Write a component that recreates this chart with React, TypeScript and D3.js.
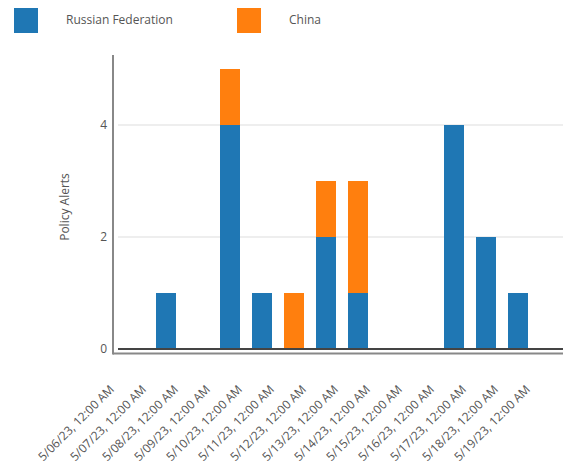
import React from "react";
import * as d3 from "d3";

const dates = [
  "5/06/23", "5/07/23", "5/08/23", "5/09/23", "5/10/23", "5/11/23", "5/12/23",
  "5/13/23", "5/14/23", "5/15/23", "5/16/23", "5/17/23", "5/18/23", "5/19/23",
];
const russia = [0, 1, 0, 4, 1, 0, 2, 1, 0, 0, 4, 2, 1, 0];
const china = [0, 0, 0, 1, 0, 1, 1, 2, 0, 0, 0, 0, 0, 0];
const seriesNames = ["Russian Federation", "China"];
const seriesColors = ["#1f77b4", "#ff7f0e"];
const yTicks = [0, 2, 4];

const W = 563;
const H = 466;
const left = 118;
const step = 32;
const plotTop = 55;
const zeroY = 349;

export default function App() {
  const x = d3
    .scaleBand<string>()
    .domain(dates)
    .range([left, left + step * dates.length])
    .paddingInner(0.375)
    .paddingOuter(0.1875)
    .align(0.5);
  const y = d3.scaleLinear().domain([0, 5.25]).range([zeroY, plotTop]);

  const rows = dates.map((d, i) => ({ date: d, ru: russia[i], cn: china[i] }));
  const stacked = d3.stack<any>().keys(["ru", "cn"])(rows);

  const font = "'Open Sans', 'Noto Sans', sans-serif";
  const textColor = "#555";

  return (
    <div style={{ position: "fixed", left: 0, top: 0 }}>
      <svg width={W} height={H} style={{ display: "block" }} fontFamily={font}>
        <rect width={W} height={H} fill="#fff" />
        {/* legend */}
        {seriesNames.map((name, i) => (
          <g key={name} transform={`translate(${14 + i * 223},8)`}>
            <rect width={24} height={25} fill={seriesColors[i]} />
            <text x={52} y={16} fontSize={12} fill={textColor}>
              {name}
            </text>
          </g>
        ))}
        {/* gridlines */}
        {yTicks
          .filter((t) => t !== 0)
          .map((t) => (
            <line
              key={t}
              x1={left}
              x2={W}
              y1={y(t)}
              y2={y(t)}
              stroke="#eeeeee"
              strokeWidth={2}
            />
          ))}
        {/* stacked bars */}
        {stacked.map((layer, si) => (
          <g key={si} fill={seriesColors[si]}>
            {layer.map((seg, i) =>
              seg[1] - seg[0] > 0 ? (
                <rect
                  key={i}
                  x={x(dates[i])!}
                  y={y(seg[1])}
                  width={x.bandwidth()}
                  height={y(seg[0]) - y(seg[1])}
                />
              ) : null
            )}
          </g>
        ))}
        {/* zero line */}
        <line x1={left} x2={W} y1={zeroY} y2={zeroY} stroke="#444" strokeWidth={2} />
        {/* axes */}
        <line x1={113} x2={W} y1={353.5} y2={353.5} stroke="#888" strokeWidth={2} />
        <line x1={113} x2={113} y1={plotTop} y2={354.5} stroke="#888" strokeWidth={2} />
        {/* y tick labels */}
        {yTicks.map((t) => (
          <text
            key={t}
            x={107}
            y={y(t) + 4}
            fontSize={12}
            fill={textColor}
            textAnchor="end"
          >
            {t}
          </text>
        ))}
        <text
          transform={`translate(69,207) rotate(-90)`}
          fontSize={12}
          fill={textColor}
          textAnchor="middle"
        >
          Policy Alerts
        </text>
        {/* x tick labels */}
        {dates.map((d, i) => {
          const ax = left + i * step - 3;
          return (
            <text
              key={d}
              transform={`translate(${ax},390) rotate(-45)`}
              fontSize={12}
              fill={textColor}
              textAnchor="end"
            >
              {`${d}, 12:00 AM`}
            </text>
          );
        })}
      </svg>
    </div>
  );
}
